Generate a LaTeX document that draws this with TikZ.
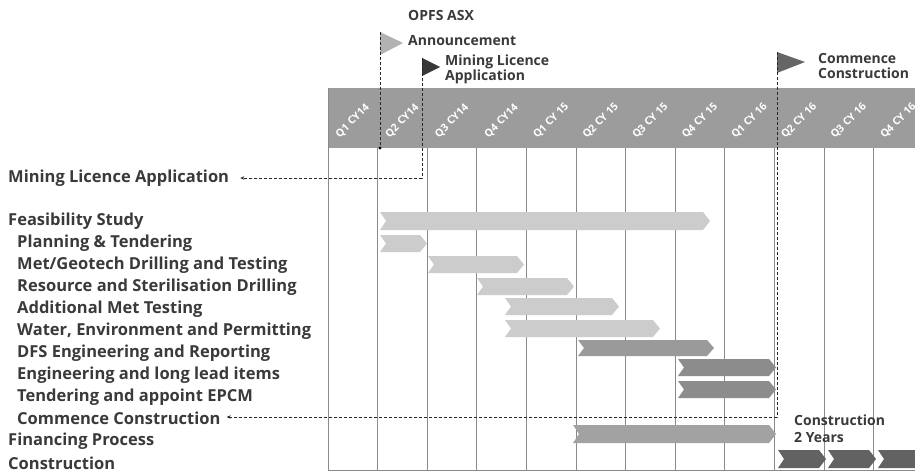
\documentclass[tikz,border=0pt]{standalone}
\usepackage{fontspec}
\setmainfont{Open Sans}
\usetikzlibrary{arrows.meta}
\definecolor{txt}{HTML}{3A3A3A}
\definecolor{hdr}{HTML}{9C9C9C}
\definecolor{gridc}{HTML}{8A8A8A}
\definecolor{barlight}{HTML}{CCCCCC}
\definecolor{barmid}{HTML}{9A9A9A}
\definecolor{bardark}{HTML}{8C8C8C}
\definecolor{barfin}{HTML}{A2A2A2}
\definecolor{barcon}{HTML}{626262}
\tikzset{
  lbl/.style={anchor=west,inner sep=0pt,font=\bfseries\fontsize{16.5}{18}\selectfont,text=txt},
  flagtxt/.style={anchor=west,inner sep=0pt,font=\bfseries\fontsize{14}{15}\selectfont,text=txt,align=left},
  qlbl/.style={rotate=45,inner sep=0pt,font=\bfseries\fontsize{10.5}{11}\selectfont,text=white},
  conn/.style={draw=black!85,line width=0.9pt,dash pattern=on 3pt off 2pt},
  gridline/.style={draw=gridc,line width=1pt},
}
\newcommand{\gbar}[5]{% x0 x1 ytop ybot color
  \fill[#5] (#1,#3) -- ({#2-7},#3) -- (#2,{(#3+#4)/2}) -- ({#2-7},#4) -- (#1,#4) -- ({#1+6},{(#3+#4)/2}) -- cycle;}
\begin{document}
\begin{tikzpicture}[x=1pt,y=-1pt]
\useasboundingbox (0,0) rectangle (915,474);
\fill[white] (0,0) rectangle (915,474);
% header
\fill[hdr] (328,88) rectangle (915,148);
\foreach \k/\t in {0/Q1 CY14,1/Q2 CY14,2/Q3 CY14,3/Q4 CY14,4/Q1 CY 15,5/Q2 CY 15,6/Q3 CY 15,7/Q4 CY 15,8/Q1 CY 16,9/Q2 CY 16,10/Q3 CY 16,11/Q4 CY 16}{
  \node[qlbl] (q\k) at ({328+49.6*(\k+0.5)},121) {\t};
}
% grid
\draw[gridline] (328,88) -- (328,471);
\foreach \k in {1,...,11}{\draw[gridline] ({328+49.6*\k},148) -- ({328+49.6*\k},471);}
\draw[gridline] (328,470.5) -- (915,470.5);
% labels
\node[lbl] (mla) at (8,178) {Mining Licence Application};
\node[lbl] (fs) at (8,221) {Feasibility Study};
\node[lbl] (pt) at (17,243) {Planning \& Tendering};
\node[lbl] (mg) at (17,265) {Met/Geotech Drilling and Testing};
\node[lbl] (rs) at (17,287) {Resource and Sterilisation Drilling};
\node[lbl] (am) at (17,309) {Additional Met Testing};
\node[lbl] (we) at (17,331) {Water, Environment and Permitting};
\node[lbl] (dfs) at (17,353) {DFS Engineering and Reporting};
\node[lbl] (el) at (17,375) {Engineering and long lead items};
\node[lbl] (te) at (17,397) {Tendering and appoint EPCM};
\node[lbl] (cc) at (17,418) {Commence Construction};
\node[lbl] (fp) at (8,441) {Financing Process};
\node[lbl] (co) at (8,463) {Construction};
% bars
\gbar{380}{710}{212}{230}{barlight}
\gbar{380}{427}{235}{252}{barlight}
\gbar{428}{524}{256}{273}{barlight}
\gbar{477}{574}{278}{295}{barlight}
\gbar{505}{619}{298}{315}{barlight}
\gbar{505}{660}{320}{337}{barlight}
\gbar{578}{714}{340}{356}{barmid}
\gbar{678}{776}{359}{376}{bardark}
\gbar{678}{776}{381}{398}{bardark}
\gbar{573}{776}{425}{443}{barfin}
\gbar{778}{826}{450}{468}{barcon}
\gbar{828}{876}{450}{468}{barcon}
\gbar{878}{926}{450}{468}{barcon}
% flags
\fill[black!30] (380,32) -- (403,43) -- (380,55) -- cycle;
\fill[black!78] (422,58) -- (440,67) -- (422,76) -- cycle;
\fill[black!60] (777,52) -- (805,62) -- (777,73) -- cycle;
\coordinate (fa) at (380,32);
\coordinate (fa2) at (380,148);
\coordinate (fb) at (422,58);
\coordinate (fb2) at (422,178);
\coordinate (fc) at (777,52);
\coordinate (fc2) at (777,417);
\draw[conn] (fa) -- (fa2);
\fill[black] (fa2) circle (1.6);
\draw[conn,-{Stealth[length=4pt,width=3.5pt]}] (fb) -- (fb2) -- ([xshift=11pt]mla.east);
\draw[conn,-{Stealth[length=4pt,width=3.5pt]}] (fc) -- (fc2) -- ([xshift=6pt]cc.east |- fc2);
% flag texts
\node[flagtxt] (t1) at (408,15) {OPFS ASX};
\node[flagtxt] (t2) at (408,41) {Announcement};
\node[flagtxt,font=\bfseries\fontsize{14}{13}\selectfont] (t3) at (445,69) {Mining Licence\\Application};
\node[flagtxt,font=\bfseries\fontsize{14}{15}\selectfont] (t4) at (818,66) {Commence\\Construction};
\node[flagtxt,font=\bfseries\fontsize{14}{17}\selectfont] (t5) at (794,429) {Construction\\2 Years};
\end{tikzpicture}
\end{document}
